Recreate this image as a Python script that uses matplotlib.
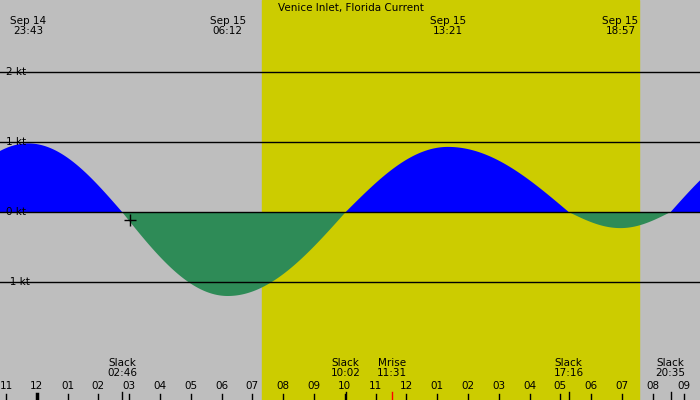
import numpy as np
import matplotlib
matplotlib.use("Agg")
import matplotlib.pyplot as plt

# hours since Sep 14 23:00
event_t = [-2.3, 0.72, 3.77, 7.20, 11.03, 14.35, 18.27, 19.95, 21.58, 24.6]
event_v = [0.0, 0.98, 0.0, -1.20, 0.0, 0.93, 0.0, -0.23, 0.0, 0.95]
hour_labels = ["11","12","01","02","03","04","05","06","07","08","09","10","11","12",
               "01","02","03","04","05","06","07","08","09"]
top_labels = [(0.72, "Sep 14\n23:43"), (7.20, "Sep 15\n06:12"), (14.35, "Sep 15\n13:21"), (19.95, "Sep 15\n18:57")]
bottom_labels = [(3.77, "Slack\n02:46"), (11.03, "Slack\n10:02"), (12.52, "Mrise\n11:31"),
                 (18.27, "Slack\n17:16"), (21.58, "Slack\n20:35")]
day_start, day_end = 8.31, 20.55
ylevels = [2, 1, 0, -1]

pxh = 30.8
x0 = -6/pxh; x1 = (700-6)/pxh
fig = plt.figure(figsize=(7, 4), dpi=100)
ax = fig.add_axes([0, 0, 1, 1])
ax.set_xlim(x0, x1)
ax.set_ylim(-188/70, 212/70)
ax.axis("off")
ax.add_patch(plt.Rectangle((x0, -3), x1-x0, 7, color="#BEBEBE", zorder=0))
ax.axvspan(day_start, day_end, color="#CCCC00", zorder=1)

t = np.linspace(x0, x1, 1500)
v = np.zeros_like(t)
for i in range(len(event_t)-1):
    a, b = event_t[i], event_t[i+1]
    m = (t >= a) & (t <= b)
    f = (t[m]-a)/(b-a)
    if event_v[i] == 0:
        v[m] = event_v[i+1]*np.sin(np.pi/2*f)
    else:
        v[m] = event_v[i]*np.cos(np.pi/2*f)
ax.fill_between(t, 0, v, where=v >= 0, color="#0000FF", zorder=2, linewidth=0)
ax.fill_between(t, 0, v, where=v <= 0, color="#2E8B57", zorder=2, linewidth=0)

fs = 7.5
for y in ylevels:
    ax.axhline(y, color="black", lw=1, zorder=3)
    ax.text(x0 + 6/pxh, y, f"{y} kt", fontsize=fs, va="center", ha="left", zorder=4)

ax.plot([4.03], [-0.11], marker="+", color="black", ms=8, zorder=5)

ax.text(11.2, 212/70 - 8/70, "Venice Inlet, Florida Current", fontsize=fs, ha="center", va="center")
for tt, s in top_labels:
    ax.text(tt, 212/70 - 26/70, s, fontsize=fs, ha="center", va="center", linespacing=0.9)
for tt, s in bottom_labels:
    ax.text(tt, (212-368)/70, s, fontsize=fs, ha="center", va="center", linespacing=0.9)
    col = "red" if s.startswith("Mrise") else "black"
    ax.plot([tt, tt], [(212-400)/70, (212-392)/70], color=col, lw=1, zorder=5)
for i, s in enumerate(hour_labels):
    ax.text(i, (212-386)/70, s, fontsize=fs, ha="center", va="center")
    ax.plot([i, i], [(212-400)/70, (212-394)/70], color="black", lw=2.5 if i == 1 else 1, zorder=5)

fig.savefig("out.png", dpi=100)
